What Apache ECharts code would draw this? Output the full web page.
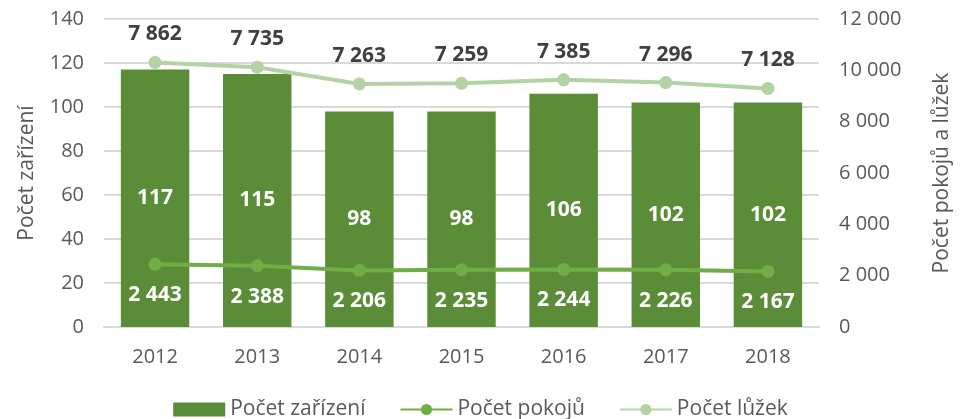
<!DOCTYPE html>
<html>
<head>
<meta charset="utf-8">
<script src="https://cdn.jsdelivr.net/npm/echarts@6/dist/echarts.min.js"></script>
<style>
html, body { margin: 0; padding: 0; background: #fff; }
#chart { width: 961px; height: 419px; }
</style>
</head>
<body>
<div id="chart"></div>
<script>
var years = ['2012', '2013', '2014', '2015', '2016', '2017', '2018'];
var zarizeni = [117, 115, 98, 98, 106, 102, 102];
var pokoje = [2443, 2388, 2206, 2235, 2244, 2226, 2167];
var luzka = [7862, 7735, 7263, 7259, 7385, 7296, 7128];

var font = '"Open Sans", Lato, sans-serif';
var grey = '#595959';

function fmt(v) {
    return String(v).replace(/\B(?=(\d{3})+(?!\d))/g, ' ');
}

var chart = echarts.init(document.getElementById('chart'));
var option = {
    animation: false,
    textStyle: { fontFamily: font },
    grid: { left: 104, right: 125, top: 19, bottom: 92 },
    legend: {
        bottom: -6,
        left: 'center',
        itemWidth: 52,
        itemHeight: 14,
        itemGap: 34,
        textStyle: { fontSize: 21, color: grey, fontFamily: font },
        data: [
            { name: 'Počet zařízení', icon: 'rect' },
            'Počet pokojů',
            'Počet lůžek'
        ]
    },
    xAxis: {
        type: 'category',
        data: years,
        axisLine: { lineStyle: { color: '#d9d9d9', width: 2 } },
        axisTick: { show: false },
        axisLabel: { color: grey, fontSize: 20, margin: 20, fontFamily: font }
    },
    yAxis: [{
        type: 'value',
        min: 0, max: 140, interval: 20,
        name: 'Počet zařízení',
        nameLocation: 'middle',
        nameGap: 66,
        nameTextStyle: { fontSize: 21, color: grey, fontFamily: font },
        axisLine: { show: false },
        axisTick: { show: false },
        axisLabel: { color: grey, fontSize: 20, margin: 20, fontFamily: font },
        splitLine: { lineStyle: { color: '#d9d9d9', width: 2 } }
    }, {
        type: 'value',
        min: 0, max: 12000, interval: 2000,
        name: 'Počet pokojů a lůžek',
        nameLocation: 'middle',
        nameGap: 113,
        nameRotate: 90,
        nameTextStyle: { fontSize: 21, color: grey, fontFamily: font },
        axisLine: { show: false },
        axisTick: { show: false },
        axisLabel: { color: grey, fontSize: 20, margin: 20, fontFamily: font, formatter: fmt },
        splitLine: { show: false }
    }],
    series: [{
        name: 'Počet zařízení',
        type: 'bar',
        yAxisIndex: 0,
        barWidth: '67%',
        itemStyle: { color: '#5b8c37' },
        label: {
            show: true, position: 'inside', color: '#fff',
            fontSize: 21, fontWeight: 'bold', fontFamily: font
        },
        data: zarizeni
    }, {
        name: 'Počet pokojů',
        type: 'line',
        yAxisIndex: 1,
        stack: 'kapacita',
        symbol: 'circle',
        symbolSize: 13,
        lineStyle: { color: '#70ad47', width: 4 },
        itemStyle: { color: '#70ad47' },
        label: {
            show: true, position: 'bottom', distance: 14, color: '#fff',
            fontSize: 21, fontWeight: 'bold', fontFamily: font,
            formatter: function (p) { return fmt(p.value); }
        },
        data: pokoje
    }, {
        name: 'Počet lůžek',
        type: 'line',
        yAxisIndex: 1,
        stack: 'kapacita',
        symbol: 'circle',
        symbolSize: 13,
        lineStyle: { color: '#b4d3a4', width: 4 },
        itemStyle: { color: '#b4d3a4' },
        label: {
            show: true, position: 'top', distance: 11, color: '#404040',
            fontSize: 21, fontWeight: 'bold', fontFamily: font,
            formatter: function (p) { return fmt(p.value); }
        },
        data: luzka
    }]
};
chart.setOption(option);
</script>
</body>
</html>
